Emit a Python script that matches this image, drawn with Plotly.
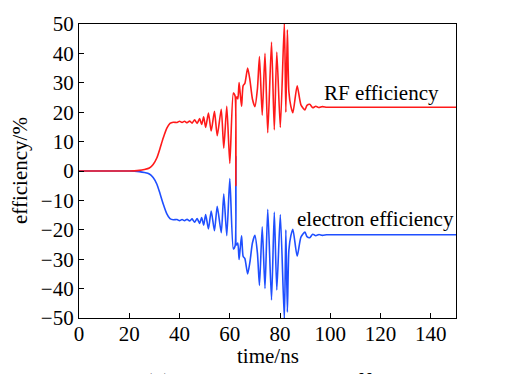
import plotly.graph_objects as go

# time axis (ns)
time_ns = [0, 10, 20, 22, 24, 26, 28, 29.5, 31, 32.2, 33.5, 34.9, 36.2, 37.5, 39, 40, 41, 42, 43, 44,
           45, 46, 47, 48, 48.8, 49.6, 50.4, 51.5, 52.6, 53.9, 55.0, 56.6, 57.6, 58.8, 60.0, 61.4, 62.1,
           62.4, 62.7, 63.2, 63.7, 64.2, 64.7, 65.3, 66.0, 67.1, 68.0, 69.0, 70.0, 71.0, 71.8, 72.9,
           74.0, 75.1, 76.6, 77.7, 78.7, 80.1, 81.7, 82.3, 82.9, 83.5, 84.3, 85.1, 86.8, 88.3, 89.9,
           90.7, 91.8, 93.0, 94.2, 95.5, 96.8, 98.5, 100, 110, 120, 130, 140, 150]

# RF efficiency (%)
rf_eff = [0, 0, 0, 0.05, 0.2, 0.5, 1.0, 2.2, 4.5, 7.6, 11.2, 14.5, 16.2, 16.6, 16.5, 16.9, 16.5, 16.9, 16.4, 17.0,
          16.3, 17.4, 16.2, 17.8, 15.8, 18.4, 14.8, 19.7, 13.6, 20.3, 12.0, 21.0, 7.8, 22.0, 2.6, 26.5, 25.5,
          -5.0, 25.2, 24.5, 30.1, 25.7, 22.0, 29.0, 29.8, 35.0, 31.0, 24.5, 21.9, 28.0, 38.9, 19.0,
          40.0, 13.0, 43.9, 14.0, 40.5, 14.8, 50.5, 20.0, 48.0, 27.0, 22.0, 19.8, 29.0, 22.5, 20.8,
          22.3, 22.7, 21.5, 22.0, 21.6, 21.9, 21.7, 21.7, 21.7, 21.7, 21.7, 21.7, 21.7]

# electron efficiency (%)
el_eff = [0, 0, 0, -0.05, -0.2, -0.5, -1.0, -2.2, -4.5, -7.6, -11.2, -14.5, -16.2, -16.6, -16.5, -16.9, -16.5, -16.9, -16.4, -17.0,
          -16.3, -17.4, -16.2, -17.8, -15.8, -18.4, -14.8, -19.7, -13.6, -20.3, -12.0, -21.0, -7.8, -22.0, -2.6, -26.5, -25.5,
          5.0, -25.2, -24.5, -30.1, -25.7, -22.0, -29.0, -29.8, -35.0, -31.0, -24.5, -21.9, -28.0, -38.9, -19.0,
          -40.0, -13.0, -43.9, -14.0, -40.5, -14.8, -50.5, -20.0, -48.0, -27.0, -22.0, -19.8, -29.0, -22.5, -20.8,
          -22.3, -22.7, -21.5, -22.0, -21.6, -21.9, -21.7, -21.7, -21.7, -21.7, -21.7, -21.7, -21.7]

assert len(time_ns) == len(rf_eff) == len(el_eff)

x_ticks = [0, 20, 40, 60, 80, 100, 120, 140]
y_ticks = [-50, -40, -30, -20, -10, 0, 10, 20, 30, 40, 50]

FONT = "Liberation Serif"
RED = "#ff1a1a"
BLUE = "#1f4fff"

fig = go.Figure()
fig.add_trace(go.Scatter(x=time_ns, y=el_eff, mode="lines",
                         line=dict(color=BLUE, width=1.6, shape="spline", smoothing=0.6),
                         showlegend=False, cliponaxis=True))
fig.add_trace(go.Scatter(x=time_ns, y=rf_eff, mode="lines",
                         line=dict(color=RED, width=1.6, shape="spline", smoothing=0.6),
                         showlegend=False, cliponaxis=True))

axis_common = dict(showgrid=False, zeroline=False, showline=True, linecolor="black", linewidth=1.2,
                   mirror=True, ticks="inside", ticklen=5, tickwidth=1, tickcolor="black",
                   tickfont=dict(family=FONT, size=21, color="black"))

fig.update_xaxes(range=[0, 150], tickvals=x_ticks, ticklabelstandoff=-3, **axis_common)
fig.update_yaxes(range=[-50, 50], tickvals=y_ticks, **axis_common)

fig.add_annotation(x=96.7, y=26.5, xref="x", yref="y", text="RF efficiency", showarrow=False,
                   xanchor="left", yanchor="middle", font=dict(family=FONT, size=21, color="black"))
fig.add_annotation(x=86.0, y=-16.4, xref="x", yref="y", text="electron efficiency", showarrow=False,
                   xanchor="left", yanchor="middle", font=dict(family=FONT, size=21, color="black"))
# axis titles
fig.add_annotation(x=0.5, y=0, xref="paper", yref="paper", yshift=-38, text="time/ns", showarrow=False,
                   xanchor="center", yanchor="middle", font=dict(family=FONT, size=21, color="black"))
fig.add_annotation(x=0, y=0.5, xref="paper", yref="paper", xshift=-59, text="efficiency/%", showarrow=False,
                   textangle=-90, xanchor="center", yanchor="middle", font=dict(family=FONT, size=21, color="black"))
# cut-off caption (only its top edge is visible, as in the reference)
fig.add_annotation(x=0, y=0, xref="paper", yref="paper", xshift=63, yshift=-49,
                   text="(a) RF and electron efficiency", showarrow=False,
                   xanchor="left", yanchor="top", font=dict(family=FONT, size=25, color="black"))

fig.update_layout(width=531, height=374, margin=dict(l=79, r=75, t=15, b=56),
                  paper_bgcolor="white", plot_bgcolor="white")

fig.write_html("out.html")
